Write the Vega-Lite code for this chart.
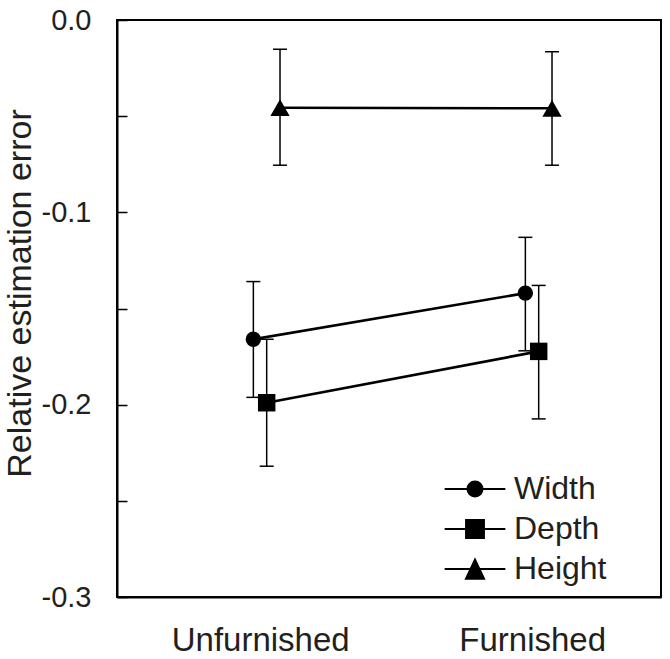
{
  "$schema": "https://vega.github.io/schema/vega-lite/v6.json",
  "width": 544,
  "height": 577,
  "autosize": {"type": "none"},
  "padding": {"left": 117, "right": 9, "top": 20, "bottom": 62},
  "background": "white",
  "config": {
    "font": "Liberation Sans",
    "view": {"stroke": "black", "strokeWidth": 2},
    "axis": {
      "domainColor": "black",
      "domainWidth": 2,
      "grid": false,
      "labelColor": "#231f20",
      "titleColor": "#231f20",
      "titleFontWeight": "normal",
      "labelFont": "Liberation Sans",
      "titleFont": "Liberation Sans"
    },
    "legend": {"padding": 0}
  },
  "data": {
    "values": [
      {"condition": "Unfurnished", "dimension": "Width", "mean": -0.166, "lo": -0.1962, "hi": -0.136},
      {"condition": "Furnished", "dimension": "Width", "mean": -0.142, "lo": -0.172, "hi": -0.113},
      {"condition": "Unfurnished", "dimension": "Depth", "mean": -0.199, "lo": -0.232, "hi": -0.166},
      {"condition": "Furnished", "dimension": "Depth", "mean": -0.1723, "lo": -0.2074, "hi": -0.138},
      {"condition": "Unfurnished", "dimension": "Height", "mean": -0.0456, "lo": -0.0755, "hi": -0.0152},
      {"condition": "Furnished", "dimension": "Height", "mean": -0.0459, "lo": -0.0755, "hi": -0.0165}
    ]
  },
  "encoding": {
    "x": {
      "field": "condition",
      "type": "nominal",
      "sort": ["Unfurnished", "Furnished"],
      "scale": {"type": "band", "paddingInner": 0.853, "paddingOuter": 0.4265, "align": 0.559},
      "axis": {"title": null, "ticks": false, "labelAngle": 0, "labelFontSize": 33, "labelPadding": 27, "labelOffset": -6}
    },
    "xOffset": {
      "field": "dimension",
      "type": "nominal",
      "sort": ["Width", "Depth", "Height"],
      "scale": {"paddingInner": 0, "paddingOuter": 0}
    }
  },
  "layer": [
    {
      "mark": {"type": "rule", "color": "black", "strokeWidth": 1.5},
      "encoding": {
        "y": {
          "field": "lo",
          "type": "quantitative",
          "scale": {"domain": [-0.3, 0], "nice": false, "zero": false},
          "axis": {
            "title": "Relative estimation error",
            "titleFontSize": 34,
            "titlePadding": 4,
            "titleY": 273,
            "values": [-0.3, -0.25, -0.2, -0.15, -0.1, -0.05, 0],
            "labelExpr": "datum.value == 0 ? '0.0' : (abs(datum.value*10 - round(datum.value*10)) < 0.001 ? '-' + format(abs(datum.value), '.1f') : '')",
            "tickSize": -10,
            "tickColor": "black",
            "tickWidth": 1.5,
            "labelFontSize": 29,
            "labelPadding": 36
          }
        },
        "y2": {"field": "hi"}
      }
    },
    {
      "mark": {"type": "tick", "orient": "horizontal", "color": "black", "thickness": 1.5, "size": 14, "opacity": 1},
      "encoding": {"y": {"field": "lo", "type": "quantitative"}}
    },
    {
      "mark": {"type": "tick", "orient": "horizontal", "color": "black", "thickness": 1.5, "size": 14, "opacity": 1},
      "encoding": {"y": {"field": "hi", "type": "quantitative"}}
    },
    {
      "mark": {"type": "line", "color": "black", "strokeWidth": 2.6},
      "encoding": {
        "y": {"field": "mean", "type": "quantitative"},
        "detail": {"field": "dimension", "type": "nominal"}
      }
    },
    {
      "mark": {"type": "point", "filled": true, "color": "black", "opacity": 1},
      "encoding": {
        "y": {"field": "mean", "type": "quantitative"},
        "shape": {
          "field": "dimension",
          "type": "nominal",
          "scale": {"domain": ["Width", "Depth", "Height"], "range": ["circle", "square", "triangle-up"]},
          "legend": null
        },
        "size": {
          "field": "dimension",
          "type": "ordinal",
          "scale": {"domain": ["Width", "Depth", "Height"], "range": [236, 373, 428]},
          "legend": null
        }
      }
    },
    {
      "mark": {"type": "point", "filled": true, "opacity": 0},
      "encoding": {
        "y": {"field": "mean", "type": "quantitative"},
        "fill": {
          "field": "dimension",
          "type": "nominal",
          "sort": ["Width", "Depth", "Height"],
          "scale": {"range": ["black", "black", "black"]},
          "legend": {
            "orient": "none",
            "legendX": 342,
            "legendY": 453,
            "title": null,
            "labelFontSize": 32,
            "labelColor": "#231f20",
            "labelFont": "Liberation Sans",
            "symbolSize": 256,
            "rowPadding": 8,
            "labelOffset": 23,
            "encode": {
              "symbols": {
                "update": {
                  "shape": {"signal": "datum.value === 'Width' ? 'M-3.8,0H3.8M0.95,0A0.95,0.95,0,1,1,-0.95,0A0.95,0.95,0,1,1,0.95,0Z' : (datum.value === 'Depth' ? 'M-3.8,0H3.8M-1.13,-1.13H1.13V1.13H-1.13Z' : 'M-3.8,0H3.8M0,-1.2L1.15,1.22L-1.15,1.22Z')"},
                  "size": {"value": 256},
                  "fill": {"value": "black"},
                  "stroke": {"value": "black"},
                  "strokeWidth": {"value": 1.8},
                  "opacity": {"value": 1},
                  "fillOpacity": {"value": 1},
                  "strokeOpacity": {"value": 1}
                }
              }
            }
          }
        }
      }
    }
  ]
}
